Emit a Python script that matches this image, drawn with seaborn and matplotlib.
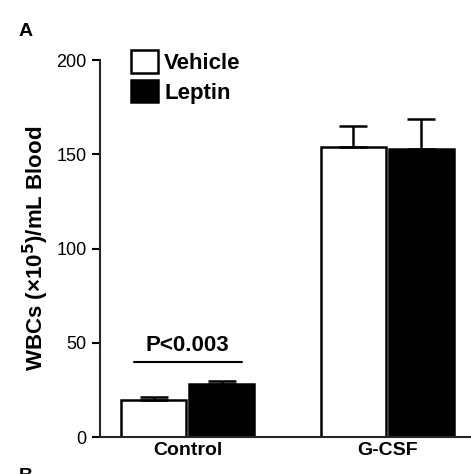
import matplotlib
matplotlib.use("Agg")
import matplotlib.pyplot as plt
import seaborn as sns
import pandas as pd
import numpy as np

groups = ["Control", "G-CSF"]
treatments = ["Vehicle", "Leptin"]
means = {"Vehicle": [19.5, 154], "Leptin": [28, 153]}
errs = {"Vehicle": [2, 11], "Leptin": [1.5, 16]}
yticks = [0, 50, 100, 150, 200]

rows = []
for t in treatments:
    for g, m in zip(groups, means[t]):
        rows.append({"group": g, "treatment": t, "value": m})
df = pd.DataFrame(rows)

sns.set_style("ticks")
plt.rcParams['font.family'] = ['Liberation Sans', 'DejaVu Sans']
plt.rcParams['text.color'] = 'black'
plt.rcParams['xtick.color'] = 'black'
plt.rcParams['ytick.color'] = 'black'
plt.rcParams['axes.labelcolor'] = 'black'
fig = plt.figure(figsize=(4.71, 4.74), dpi=100)
ax = fig.add_axes([0.212, 0.078, 0.788, 0.795])
sns.barplot(data=df, x="group", y="value", hue="treatment", order=groups,
            hue_order=treatments, palette={"Vehicle": "white", "Leptin": "black"},
            width=0.68, gap=0.04, errorbar=None, edgecolor="black", linewidth=1.8, ax=ax,
            saturation=1)
for i, t in enumerate(treatments):
    cont = ax.containers[i]
    for p, e, m in zip(cont.patches, errs[t], means[t]):
        x = p.get_x() + p.get_width() / 2
        ax.errorbar([x], [m], yerr=[[0], [e]], fmt="none", ecolor="black",
                    elinewidth=1.8, capsize=10, capthick=1.8)
ax.set_ylim(0, 200)
ax.set_xlim(-0.44, 1.42)
ax.set_yticks(yticks)
ax.set_yticklabels([str(v) for v in yticks], fontsize=13)
ax.tick_params(axis='y', direction='out', length=6, width=1.5)
ax.tick_params(axis='x', length=0, labelsize=14)
for lab in ax.get_xticklabels():
    lab.set_fontweight("bold")
ax.set_xlabel("")
ax.set_ylabel("WBCs (×10$^\\mathbf{5}$)/mL Blood", fontsize=16, fontweight="bold")
sns.despine(ax=ax)
ax.spines['left'].set_linewidth(1.5)
ax.spines['bottom'].set_linewidth(1.5)
ax.plot([-0.27, 0.27], [40, 40], color="black", lw=1.5)
ax.text(0, 43, "P<0.003", ha="center", va="bottom", fontsize=16, fontweight="bold")
leg = ax.legend(loc="upper left", bbox_to_anchor=(0.06, 1.05), frameon=False,
                fontsize=16, handlelength=1.2, handleheight=1.2, handletextpad=0.3,
                labelspacing=0.25, borderaxespad=0)
for txt in leg.get_texts():
    txt.set_fontweight("bold")
fig.text(0.04, 0.925, "A", fontsize=14, fontweight="bold")
fig.text(0.04, -0.015, "B", fontsize=14, fontweight="bold")
fig.savefig("out.png", dpi=100)
